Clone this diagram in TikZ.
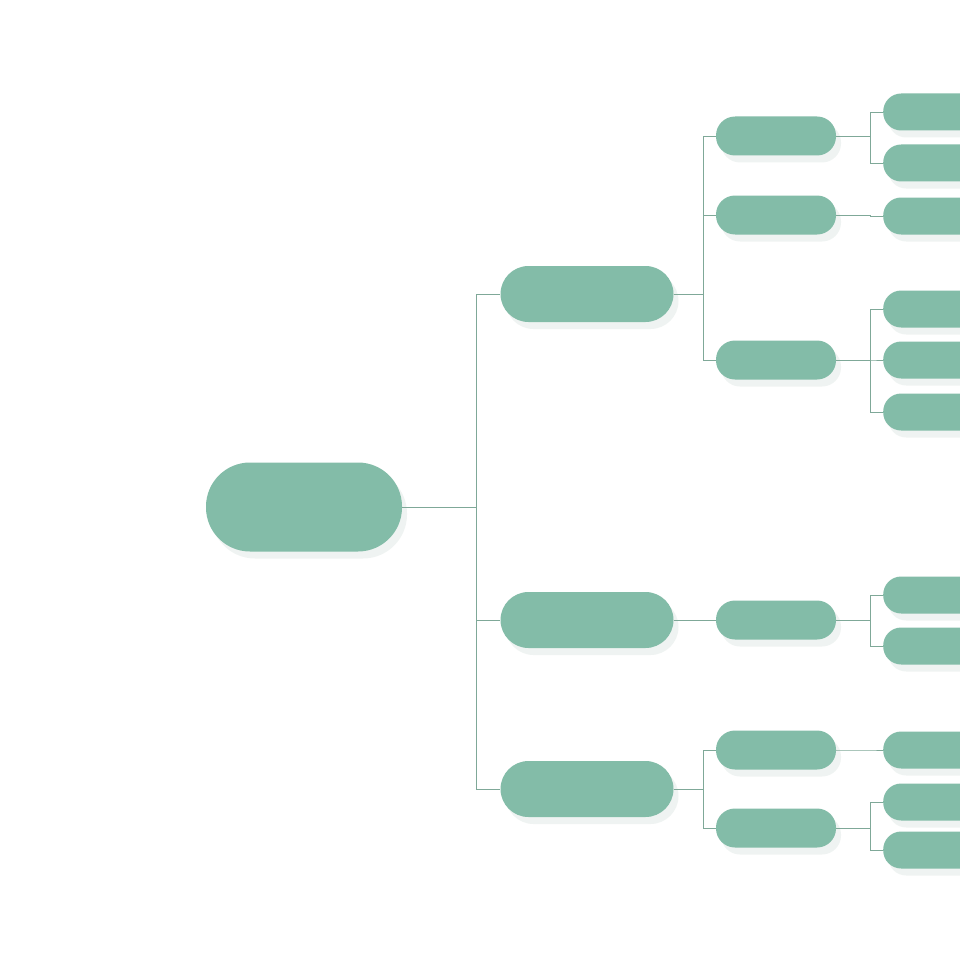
\documentclass[tikz,border=0pt]{standalone}
\usepackage{tikz}
\usetikzlibrary{positioning,calc,shadows}
\definecolor{boxgreen}{HTML}{83BCA8}
\definecolor{linegreen}{HTML}{7FA898}

\tikzset{
	box/.style={fill=boxgreen, draw=none, inner sep=0pt,
		drop shadow={shadow xshift=5pt, shadow yshift=-7pt, opacity=0.12, fill=boxgreen!60!gray}},
	rootbox/.style={box, minimum width=196pt, minimum height=89pt, rounded corners=44pt},
	mainbox/.style={box, minimum width=173pt, minimum height=56pt, rounded corners=28pt},
	subbox/.style={box, minimum width=120pt, minimum height=39pt, rounded corners=19pt},
	leafbox/.style={box, minimum width=130pt, minimum height=37pt, rounded corners=18pt},
	link/.style={draw=linegreen, line width=0.9pt}
}

\begin{document}
\begin{tikzpicture}[x=1pt, y=-1pt]
	\useasboundingbox (0,0) rectangle (960,960);
	\clip (0,0) rectangle (960,960);
	\fill[white] (0,0) rectangle (960,960);
	% root and main branches
	\node[rootbox] (root) at (304,507) {};
	\node[mainbox] (mA) at (587,294) {};
	\node[mainbox] (mB) at (587,620) {};
	\node[mainbox] (mC) at (587,789) {};
	% second level
	\node[subbox] (sA1) at (776,136) {};
	\node[subbox] (sA2) at (776,215) {};
	\node[subbox] (sA3) at (776,360) {};
	\node[subbox] (sB1) at (776,620) {};
	\node[subbox] (sC1) at (776,750) {};
	\node[subbox] (sC2) at (776,828) {};
	% leaves
	\foreach \n/\y in {a/112, b/163, c/216, d/309, e/360, f/412, g/595, h/646, i/750, j/802, k/850}
		\node[leafbox, anchor=west] (l\n) at (883,\y) {};
	% connectors
	\foreach \m in {mA, mB, mC}
		\draw[link] (root.east) -- ++(74,0) |- (\m.west);
	\foreach \s in {sA1, sA2, sA3}
		\draw[link] (mA.east) -- ++(30,0) |- (\s.west);
	\draw[link] (mB.east) -- (sB1.west);
	\foreach \s in {sC1, sC2}
		\draw[link] (mC.east) -- ++(30,0) |- (\s.west);
	\foreach \s/\l in {sA1/la, sA1/lb, sA2/lc, sA3/ld, sA3/le, sA3/lf, sB1/lg, sB1/lh, sC1/li, sC2/lj, sC2/lk}
		\draw[link] (\s.east) -- ++(34,0) |- (\l.west);
\end{tikzpicture}
\end{document}
